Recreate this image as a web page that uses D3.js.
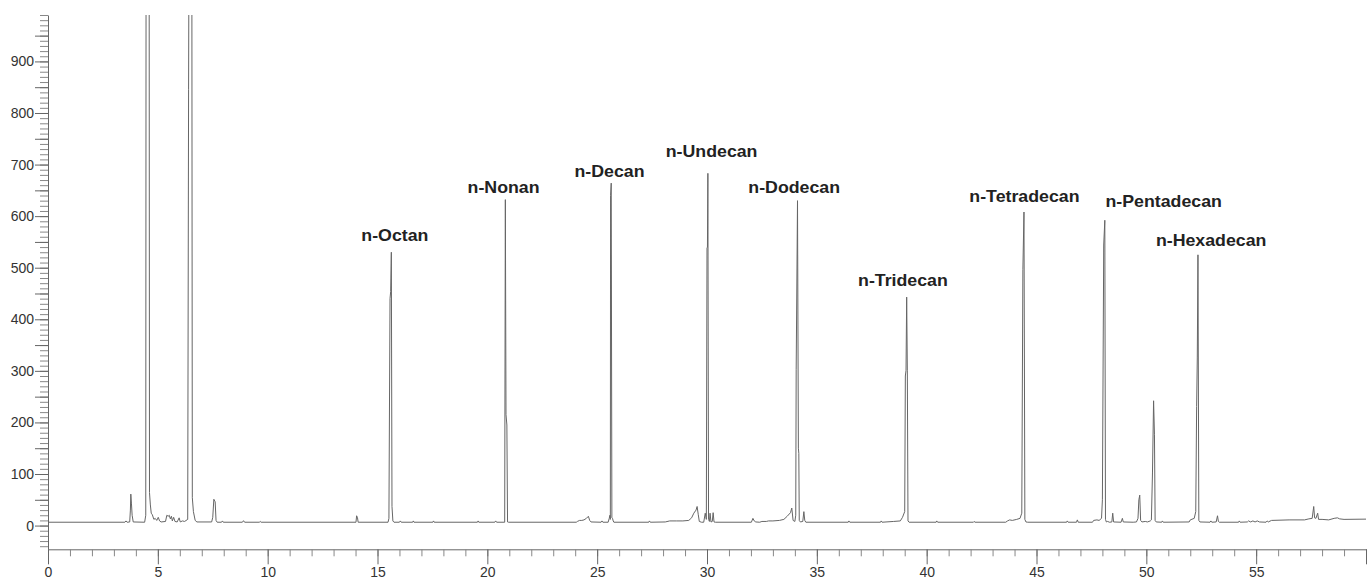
<!DOCTYPE html>
<html>
<head>
<meta charset="utf-8">
<script src="https://cdn.jsdelivr.net/npm/d3@7"></script>
<style>
  body { margin: 0; background: #fff; }
  svg { display: block; font-family: "Liberation Sans", Arial, sans-serif; }
  .tick text { fill: #333; }
</style>
</head>
<body>
<svg id="chart" width="1372" height="579"></svg>
<script>
"use strict"

// detector trace, [retention time (min), signal]
const trace = [
  [0, 6.5], [3.50, 6.5], [3.55, 9], [3.60, 6.5],
  [3.72, 7], [3.75, 30], [3.77, 61], [3.80, 42], [3.83, 20], [3.88, 7],
  [4.40, 6.5], [4.45, 20], [4.47, 1500], [4.60, 1500], [4.62, 64], [4.66, 40], [4.70, 24],
  [4.75, 21], [4.82, 12], [4.88, 14], [4.95, 10], [5.02, 16], [5.08, 9], [5.15, 7],
  [5.35, 8], [5.41, 20], [5.47, 18], [5.52, 20], [5.57, 13], [5.62, 18], [5.66, 9],
  [5.72, 16], [5.78, 8], [5.88, 7], [5.97, 15], [6.02, 7], [6.12, 9], [6.22, 8],
  [6.36, 12], [6.40, 845], [6.44, 1500], [6.54, 1500], [6.57, 54], [6.62, 27], [6.70, 10], [6.78, 7],
  [7.45, 7], [7.50, 16], [7.55, 51], [7.61, 46], [7.65, 10], [7.70, 6.5],
  [7.90, 6.5], [7.94, 9], [7.98, 6.5],
  [8.85, 6.5], [8.90, 9.5], [8.95, 6.5],
  [9.62, 6.5], [9.66, 8], [9.70, 6.5],
  [14.02, 6.5], [14.05, 19], [14.09, 15], [14.12, 6.5],
  [15.48, 6.5], [15.52, 14], [15.57, 440], [15.60, 454], [15.63, 530], [15.66, 37], [15.70, 9], [15.75, 6.5],
  [16.00, 6.5], [16.04, 9], [16.08, 6.5],
  [16.60, 6.5], [16.63, 9], [16.66, 6.5],
  [17.52, 6.5], [17.55, 9], [17.58, 6.5],
  [19.55, 6.5], [19.58, 9], [19.61, 6.5],
  [20.34, 6.5], [20.38, 9], [20.42, 6.5],
  [20.79, 6.5], [20.82, 632], [20.85, 215], [20.89, 195], [20.92, 7], [20.96, 6.5],
  [24.05, 6.5], [24.10, 8], [24.20, 10], [24.30, 10], [24.40, 11], [24.51, 14], [24.60, 18],
  [24.66, 10], [24.72, 7], [25.18, 6.5], [25.22, 9], [25.26, 6.5],
  [25.50, 6.5], [25.55, 14], [25.58, 20], [25.60, 12], [25.61, 640], [25.64, 664],
  [25.67, 15], [25.70, 14], [25.73, 9], [25.76, 6.5],
  [27.35, 6.5], [27.38, 9], [27.42, 6.5],
  [28.10, 7], [28.30, 9], [28.60, 9], [28.90, 9], [29.17, 10], [29.30, 15], [29.40, 24],
  [29.50, 30], [29.55, 37], [29.60, 22], [29.65, 8], [29.75, 6.5], [29.85, 6.5],
  [29.92, 24], [29.97, 12], [30.00, 538], [30.02, 540], [30.04, 683], [30.07, 12],
  [30.11, 8], [30.14, 24], [30.18, 7], [30.24, 8], [30.28, 25], [30.32, 7], [30.38, 6.5],
  [32.02, 6.5], [32.09, 14], [32.15, 9], [32.22, 7], [32.40, 6.5], [32.50, 8], [32.70, 8],
  [32.80, 9], [33.00, 9], [33.30, 10], [33.50, 12], [33.65, 18], [33.80, 25], [33.86, 34],
  [33.92, 10], [34.00, 8], [34.04, 20], [34.06, 302], [34.12, 630], [34.16, 150],
  [34.18, 140], [34.20, 10], [34.25, 7], [34.36, 8], [34.41, 27], [34.45, 10], [34.50, 6.5],
  [36.43, 6.5], [36.46, 9], [36.50, 6.5],
  [37.90, 6.5], [37.93, 9], [37.97, 6.5],
  [38.50, 8], [38.80, 9], [38.90, 16], [39.00, 27], [39.03, 290], [39.06, 301],
  [39.09, 443], [39.12, 300], [39.15, 9], [39.20, 6.5],
  [40.43, 6.5], [40.46, 9], [40.50, 6.5],
  [42.13, 6.5], [42.16, 8], [42.20, 6.5],
  [43.60, 6.5], [43.68, 9], [43.78, 11], [43.90, 10], [44.10, 12], [44.25, 14],
  [44.33, 24], [44.38, 496], [44.43, 608], [44.47, 12], [44.52, 7], [44.60, 6.5],
  [46.37, 6.5], [46.40, 9], [46.44, 6.5],
  [46.82, 6.5], [46.86, 11], [46.90, 6.5],
  [47.55, 6.5], [47.60, 10], [47.75, 11], [47.85, 10], [47.96, 14], [48.00, 50],
  [48.06, 544], [48.11, 592], [48.14, 12], [48.18, 7], [48.24, 8], [48.32, 6.5],
  [48.43, 7], [48.47, 24], [48.51, 7], [48.85, 6.5], [48.91, 14], [48.95, 7],
  [49.40, 6.5], [49.55, 7], [49.62, 14], [49.66, 50], [49.70, 59], [49.74, 10],
  [49.80, 7], [49.95, 8], [50.05, 7], [50.18, 9], [50.23, 11], [50.28, 102], [50.33, 242],
  [50.37, 176], [50.40, 10], [50.45, 7],
  [50.70, 6.5], [50.73, 9], [50.77, 6.5],
  [51.95, 7], [52.00, 11], [52.18, 14], [52.25, 27], [52.29, 231], [52.32, 325],
  [52.35, 525], [52.39, 10], [52.44, 7],
  [52.90, 6.5], [52.94, 9], [52.98, 6.5], [53.18, 7], [53.24, 19], [53.28, 8], [53.32, 6.5],
  [54.20, 6.5], [54.23, 9], [54.27, 6.5], [54.60, 7], [54.65, 9], [54.75, 7], [54.85, 9],
  [54.95, 7], [55.05, 9], [55.15, 7], [55.45, 6.5], [55.50, 9], [55.55, 7], [55.70, 10],
  [56.50, 11], [57.20, 11], [57.40, 13], [57.55, 14], [57.62, 37], [57.66, 15],
  [57.72, 14], [57.80, 24], [57.84, 12], [58.00, 12], [58.30, 11], [58.55, 14],
  [58.70, 15], [58.80, 13], [59.00, 12], [60, 12.5]
];

// peak names, retention time of label centre, signal at label baseline
const labelNames = ["n-Octan", "n-Nonan", "n-Decan", "n-Undecan", "n-Dodecan",
                    "n-Tridecan", "n-Tetradecan", "n-Pentadecan", "n-Hexadecan"];
const labelTimes = [15.79, 20.74, 25.56, 30.21, 33.97, 38.92, 44.45, 50.79, 52.95];
const labelSignals = [552, 645, 676, 714, 645, 465, 628, 618, 543];

const xTickLabels = [0, 5, 10, 15, 20, 25, 30, 35, 40, 45, 50, 55];
const yTickLabels = [0, 100, 200, 300, 400, 500, 600, 700, 800, 900];

const svg = d3.select("#chart");
const plot = { left: 48, right: 1366, top: 15, bottom: 549.3 };

const x = d3.scaleLinear().domain([0, 60]).range([plot.left, plot.right]);
const y = d3.scaleLinear().domain([-46, 990]).range([plot.bottom, plot.top]);

const axisColor = "#666";

// y axis: minor every 10, major every 50, labels every 100
const yMinor = svg.append("g")
    .attr("transform", `translate(${plot.left},0)`)
    .call(d3.axisLeft(y).tickValues(d3.range(-40, 991, 10)).tickSize(8).tickSizeOuter(0).tickFormat(""));
const yMajor = svg.append("g")
    .attr("transform", `translate(${plot.left},0)`)
    .call(d3.axisLeft(y).tickValues(d3.range(0, 991, 50)).tickSize(13).tickPadding(1)
        .tickFormat(d => yTickLabels.includes(d) ? d : ""));
yMajor.select(".domain").remove();

// x axis: minor every minute, major every 5
const xMinor = svg.append("g")
    .attr("transform", `translate(0,${plot.bottom})`)
    .call(d3.axisBottom(x).tickValues(d3.range(0, 61, 1)).tickSize(7).tickSizeOuter(0).tickFormat(""));
const xMajor = svg.append("g")
    .attr("transform", `translate(0,${plot.bottom})`)
    .call(d3.axisBottom(x).tickValues(d3.range(0, 61, 5)).tickSize(15).tickPadding(3)
        .tickFormat(d => xTickLabels.includes(d) ? d : ""));
xMajor.select(".domain").remove();

svg.selectAll(".domain, .tick line").attr("stroke", axisColor);
yMinor.selectAll(".tick line").attr("stroke", "#888");
xMinor.selectAll(".tick line").attr("stroke", "#888");
svg.selectAll(".tick text").attr("font-size", 14).attr("font-family", "Liberation Sans, Arial, sans-serif");

// clip the saturated solvent peaks at the top of the axis
svg.append("clipPath").attr("id", "plot-clip")
  .append("rect")
    .attr("x", plot.left).attr("y", plot.top)
    .attr("width", plot.right - plot.left).attr("height", plot.bottom - plot.top);

const line = d3.line()
    .x(d => x(d[0]))
    .y(d => y(d[1]));

svg.append("path")
    .datum(trace)
    .attr("clip-path", "url(#plot-clip)")
    .attr("fill", "none")
    .attr("stroke", "#666")
    .attr("stroke-width", 1)
    .attr("d", line);

// peak names
labelNames.forEach((name, i) => {
    svg.append("g")
        .attr("transform", `translate(${x(labelTimes[i])},${y(labelSignals[i])}) scale(1.11,1)`)
      .append("text")
        .attr("text-anchor", "middle")
        .attr("font-size", 16)
        .attr("font-weight", "bold")
        .attr("fill", "#222")
        .text(name);
});
</script>
</body>
</html>
